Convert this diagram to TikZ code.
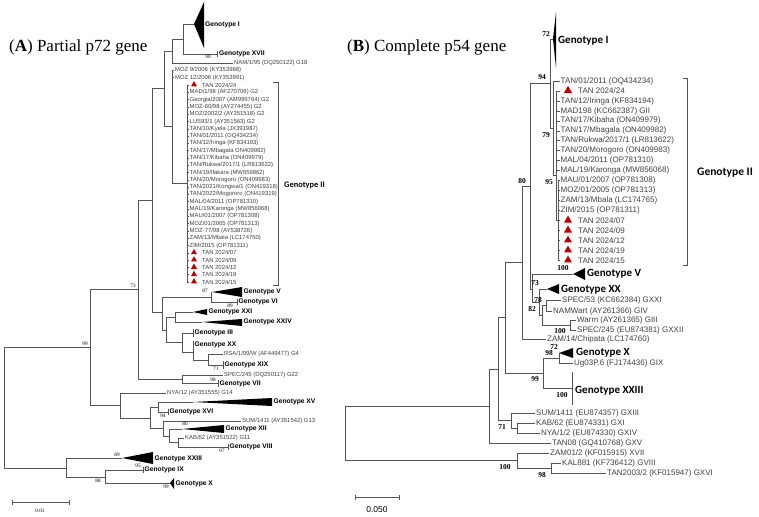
\documentclass[tikz,border=0pt]{standalone}
\usepackage{fontspec}
\setmainfont{Liberation Serif}
\setsansfont{Liberation Sans}
\newfontfamily\calibfont{Carlito}
\usetikzlibrary{shapes.geometric}
\definecolor{branchgray}{HTML}{555555}
\definecolor{leafgray}{HTML}{404040}
\definecolor{markred}{HTML}{C00000}
% collapsed clade: apex, right x, top y, bottom y
\newcommand{\cladetri}[4]{\fill[black] (#1) -- (#2,#3) -- (#2,#4) -- cycle;}

\begin{document}
\begin{tikzpicture}[x=1pt, y=-1pt,
    brL/.style={draw=branchgray, line width=0.55pt},
    brR/.style={draw=branchgray, line width=0.8pt},
    leafL/.style={anchor=west, inner sep=1pt, text=leafgray, font=\sffamily\fontsize{5.9}{6}\selectfont},
    leafR/.style={anchor=west, inner sep=1pt, text=leafgray, font=\sffamily\fontsize{8}{8}\selectfont},
    genoL/.style={anchor=west, inner sep=0pt, font=\sffamily\bfseries\fontsize{6.7}{7}\selectfont},
    genoR/.style={anchor=west, inner sep=0pt, font=\calibfont\bfseries\fontsize{11}{11}\selectfont},
    bootL/.style={inner sep=0pt, font=\fontsize{5.2}{5.5}\selectfont},
    bootR/.style={inner sep=0pt, font=\bfseries\fontsize{7.5}{8}\selectfont},
    redtri/.style={regular polygon, regular polygon sides=3, fill=markred, inner sep=0pt}
]
\useasboundingbox (0,0) rectangle (759,516);

% titles
\node[anchor=west, inner sep=0pt, font=\fontsize{17}{17}\selectfont] (titleA) at (9,47) {(\textbf{A}) Partial p72 gene};
\node[anchor=west, inner sep=0pt, font=\fontsize{17}{17}\selectfont] (titleB) at (347,47) {(\textbf{B}) Complete p54 gene};

% ---------------- (A) p72 tree ----------------
\coordinate (Lroot) at (4,407.5);
\coordinate (L99) at (90,347);
\coordinate (Lout) at (66,468);
\coordinate (L73) at (138,289);
\coordinate (Llow) at (120,405.5);
\coordinate (Lmid) at (152,200);
\coordinate (Lvii) at (182,379);
\coordinate (Lup) at (164,88.5);
\coordinate (Lq) at (162,312.5);
\coordinate (Ltop) at (172,51);
\coordinate (Lmoz) at (172,126.7);
\coordinate (Lixvii) at (183,39);
\coordinate (Lgii) at (187,183);
\coordinate (Lr) at (211,297);
\coordinate (Lq2) at (166,330);
\coordinate (Lt) at (175,317);
\coordinate (Lu) at (182,342.5);
\coordinate (Lw) at (193,352);
\coordinate (Lx) at (208,360);
\coordinate (La) at (150,418);
\coordinate (Lb) at (158,407);
\coordinate (Lc) at (163,428.5);
\coordinate (Ld) at (169,436);
\coordinate (Le) at (178,442.5);
\coordinate (Lf) at (105,477);
% tips of collapsed clades
\coordinate (tI) at (194,24);
\coordinate (tXVII) at (217,54);
\coordinate (tV) at (212,292);
\coordinate (tVI) at (237,302);
\coordinate (tXXI) at (193,312);
\coordinate (tXXIV) at (202,322);
\coordinate (tIII) at (193,333);
\coordinate (tXX) at (193,345);
\coordinate (tXIX) at (223,365);
\coordinate (tVII) at (218,383);
\coordinate (tXV) at (193,402);
\coordinate (tXVI) at (168,412);
\coordinate (tXII) at (182,429);
\coordinate (tVIII) at (228,447);
\coordinate (tXXIII) at (122,458);
\coordinate (tIX) at (143,470);
\coordinate (tX) at (170,483);

\node[leafL] (lNAM) at (233,63) {NAM/1/95 (DQ250122) G18};
\node[leafL] (lMOZa) at (174,70.4) {MOZ 9/2006 (KY353988)};
\node[leafL] (lMOZb) at (174,77.7) {MOZ 12/2006 (KY353991)};
\node[leafL] (lRSA) at (223,354) {RSA/1/99/W (AF449477) G4};
\node[leafL] (lSPEC) at (223,375) {SPEC/245 (DQ250117) G22};
\node[leafL] (lNYA) at (166,393) {NYA/12 (AY351555) G14};
\node[leafL] (lSUM) at (241,421) {SUM/1411 (AY351542) G13};
\node[leafL] (lKAB) at (184,438) {KAB/62 (AY351522) G11};

\foreach \p/\c in {Lroot/L99, Lroot/Lout, L99/L73, L99/Llow, L73/Lmid, L73/Lvii,
    Lmid/Lup, Lmid/Lq, Lup/Ltop, Lup/Lmoz, Ltop/Lixvii, Ltop/lNAM.west, Lixvii/tI, Lixvii/tXVII,
    Lmoz/lMOZa.west, Lmoz/lMOZb.west, Lmoz/Lgii, Lq/Lr, Lq/Lq2, Lr/tV, Lr/tVI, Lq2/Lt, Lq2/Lu,
    Lt/tXXI, Lt/tXXIV, Lu/tIII, Lu/Lw, Lw/tXX, Lw/Lx, Lx/lRSA.west, Lx/tXIX, Lvii/lSPEC.west,
    Lvii/tVII, Llow/lNYA.west, Llow/La, La/Lb, La/Lc, Lb/tXV, Lb/tXVI, Lc/lSUM.west, Lc/Ld,
    Ld/tXII, Ld/Le, Le/lKAB.west, Le/tVIII, Lout/tXXIII, Lout/Lf, Lf/tIX, Lf/tX}
    \draw[brL] (\p) |- (\c);

% Genotype II comb
\foreach \i in {0,...,27} {
    \coordinate (lg\i) at (188.5,{85+7.296*\i});
    \draw[brL] (Lgii) |- (lg\i);
}
\foreach \lab [count=\i] in {{MAD/1/98 (AF270706) G2}, {Georgia/2007 (AM999764) G2},
    {MOZ-60/98 (AY274455) G2}, {MOZ/2002/2 (AY351518) G2}, {LUS93/1 (AY351563) G2},
    {TAN/10/Kyela (JX391987)}, {TAN/01/2011 (OQ434234)}, {TAN/12/Iringa (KF834193)},
    {TAN/17/Mbagala ON409982)}, {TAN/17/Kibaha (ON409979)}, {TAN/Rukwa/2017/1 (LR813622)},
    {TAN/19/Ifakara (MW659862)}, {TAN/20/Morogoro (ON409983)}, {TAN/2021/Kongwa/1 (ON419318)},
    {TAN/2022/Mogororo (ON419319)}, {MAL/04/2011 (OP781310)}, {MAL/19/Karonga (MW856068)},
    {MAU/01/2007 (OP781308)}, {MOZ/01/2005 (OP781313)}, {MOZ-77/98 (AY538726)},
    {ZAM/13/Mbala (LC174750)}, {ZIM/2015 (OP781311)}}
    \node[leafL] (lgt\i) at (lg\i) {\lab};
\foreach \i/\lab in {0/24, 23/07, 24/09, 25/12, 26/19, 27/15} {
    \node[redtri, minimum size=7pt] (lm\i) at ([xshift=5.5pt, yshift=0.4pt]lg\i) {};
    \node[leafL] (lmt\i) at ([xshift=12.5pt]lg\i) {TAN 2024/\lab};
}
\draw[brL] (273,82) -- (278,82) -- (278,285) -- (273,285);
\node[anchor=west, inner sep=0pt, font=\calibfont\bfseries\fontsize{8.4}{9}\selectfont] (lGII) at (284,185) {Genotype II};

% collapsed clades
\cladetri{tI}{204}{2}{48}
\cladetri{tV}{242}{287}{297}
\cladetri{tXXI}{207}{309}{315}
\cladetri{tXXIV}{242}{319}{326}
\cladetri{tXV}{272}{398}{406}
\cladetri{tXII}{224}{425}{433}
\cladetri{tXXIII}{153}{452}{464}
\cladetri{tX}{174}{478}{489}
\foreach \x/\a/\b in {217/51/57, 237/299/305, 193/329/337, 193/341/349, 223/361/369,
    218/380/387, 168/409/415, 228/444/450, 143/467/473}
    \draw[brL] (\x,\a) -- (\x,\b);

\foreach \x/\y/\g [count=\k] in {205/25/I, 219/54/XVII, 243.5/292/V, 238.5/302/VI,
    208.5/312/XXI, 243.5/322/XXIV, 194.5/333/III, 194.5/345/XX, 224.5/365/XIX,
    219.5/384/VII, 273.5/402/XV, 169.5/412/XVI, 225.5/429/XII, 229.5/447/VIII,
    154.5/459/XXIII, 144.5/470/IX, 175.5/484/X}
    \node[genoL] (gl\k) at (\x,\y) {Genotype \g};

\foreach \x/\y/\v [count=\k] in {208/57/90, 205/291/87, 230/306/89, 216/369/71, 213/380/98,
    163/416/94, 185/424/80, 222/451/97, 117/455/89, 138/466/95, 98/481/88, 166/487/99,
    133/286/73, 85/344/99}
    \node[bootL] (bl\k) at (\x,\y) {\v};

% scale bar
\coordinate (sbLa) at (12,502);
\coordinate (sbLb) at (69,502);
\draw[brL] (sbLa) -- (sbLb);
\draw[brL] ([yshift=2.5pt]sbLa) -- ([yshift=-2.5pt]sbLa);
\draw[brL] ([yshift=2.5pt]sbLb) -- ([yshift=-2.5pt]sbLb);
\node[bootL] (sbLt) at (40,511) {0.01};

% ---------------- (B) p54 tree ----------------
\coordinate (Rroot) at (345,433);
\coordinate (Rbig) at (489,406);
\coordinate (Rbot) at (517,460.5);
\coordinate (Rkt) at (551,468);
\coordinate (Rn) at (498,369);
\coordinate (Rm) at (505,317);
\coordinate (Rs) at (511,420.5);
\coordinate (Rskn) at (517,428);
\coordinate (Rk) at (522,262);
\coordinate (R99) at (543,373);
\coordinate (Rx) at (559,358);
\coordinate (R80) at (530,186);
\coordinate (R94) at (550,83);
\coordinate (Rv) at (532,289);
\coordinate (Rg) at (553,128);
\coordinate (Rgb) at (556,175.5);
\coordinate (Rgc) at (558,220.8);
\coordinate (Rxx) at (539,302);
\coordinate (Rs3) at (542,315);
\coordinate (Rsn) at (546,305.5);
\coordinate (Rw) at (570,325);
\coordinate (rI) at (553,39);
\coordinate (rV) at (573,274);
\coordinate (rXX) at (547,289);
\coordinate (rX) at (559,353);
\coordinate (rXXIII) at (572,388);

\node[leafR] (rZAMb) at (546,339) {ZAM/14/Chipata (LC174760)};
\node[leafR] (rUg) at (573,363) {Ug03P.6 (FJ174436) GIX};
\node[leafR] (rSPECa) at (561,300) {SPEC/53 (KC662384) GXXI};
\node[leafR] (rNAMW) at (552,311) {NAMWart (AY261366) GIV};
\node[leafR] (rWarm) at (576,320) {Warm (AY261365) GIII};
\node[leafR] (rSPECb) at (576,330) {SPEC/245 (EU874381) GXXII};
\node[leafR] (rSUM) at (535,413) {SUM/1411 (EU874357) GXIII};
\node[leafR] (rKAB) at (535,423) {KAB/62 (EU874331) GXI};
\node[leafR] (rNYA) at (540,433) {NYA/1/2 (EU874330) GXIV};
\node[leafR] (rTAN08) at (551,443) {TAN08 (GQ410768) GXV};
\node[leafR] (rZAMa) at (549,453) {ZAM01/2 (KF015915) XVII};
\node[leafR] (rKAL) at (561,463) {KAL881 (KF736412) GVIII};
\node[leafR] (rTANb) at (606,473) {TAN2003/2 (KF015947) GXVI};

\foreach \p/\c in {Rroot/Rbig, Rroot/Rbot, Rbot/rZAMa.west, Rbot/Rkt, Rkt/rKAL.west,
    Rkt/rTANb.west, Rbig/Rn, Rbig/rTAN08.west, Rn/Rm, Rn/Rs, Rs/rSUM.west, Rs/Rskn,
    Rskn/rKAB.west, Rskn/rNYA.west, Rm/Rk, Rm/R99, R99/Rx, R99/rXXIII, Rx/rX, Rx/rUg.west,
    Rk/R80, Rk/rZAMb.west, R80/R94, R80/Rv, R94/rI, R94/Rg, Rv/rV, Rv/Rxx, Rxx/rXX,
    Rxx/Rs3, Rs3/Rsn, Rs3/Rw, Rsn/rSPECa.west, Rsn/rNAMW.west, Rw/rWarm.west,
    Rw/rSPECb.west, Rg/Rgb, Rgb/Rgc}
    \draw[brR] (\p) |- (\c);

% Genotype II comb
\foreach \i in {0,...,18}
    \coordinate (rg\i) at (559.5,{81+9.98*\i});
\draw[brR] (Rg) |- (rg0);
\foreach \i in {1,...,9} \draw[brR] (Rgb) |- (rg\i);
\foreach \i in {10,...,18} \draw[brR] (Rgc) |- (rg\i);
\foreach \i/\lab in {0/{TAN/01/2011 (OQ434234)}, 2/{TAN/12/Iringa (KF834194)},
    3/{MAD198 (KC662387) GII}, 4/{TAN/17/Kibaha (ON409979)}, 5/{TAN/17/Mbagala (ON409982)},
    6/{TAN/Rukwa/2017/1 (LR813622)}, 7/{TAN/20/Morogoro (ON409983)}, 8/{MAL/04/2011 (OP781310)},
    9/{MAL/19/Karonga (MW856068)}, 10/{MAU/01/2007 (OP781308)}, 11/{MOZ/01/2005 (OP781313)},
    12/{ZAM/13/Mbala (LC174765)}, 13/{ZIM/2015 (OP781311)}}
    \node[leafR] (rgt\i) at (rg\i) {\lab};
\foreach \i/\lab in {1/24, 14/07, 15/09, 16/12, 17/19, 18/15} {
    \node[redtri, minimum size=9.2pt] (rm\i) at ([xshift=8.5pt, yshift=0.5pt]rg\i) {};
    \node[leafR] (rmt\i) at ([xshift=17.5pt]rg\i) {TAN 2024/\lab};
}
\draw[brR] (683,78) -- (687,78) -- (687,265) -- (683,265);
\node[genoR, font=\calibfont\bfseries\fontsize{11.5}{12}\selectfont] (rGII) at (697,173) {Genotype II};

% collapsed clades
\cladetri{rI}{556}{12}{68}
\cladetri{rV}{585}{268}{280}
\cladetri{rXX}{559}{284}{294}
\cladetri{rX}{573}{348}{358}
\draw[brR] (572,372) -- (572,405);

\foreach \x/\y/\g [count=\k] in {558/41/I, 587/274/V, 561/290/XX, 576/353/X, 575/391/XXIII}
    \node[genoR] (gr\k) at (\x,\y) {Genotype \g};

\foreach \x/\y/\v [count=\k] in {546/34/72, 542/77/94, 546/135/79, 522/181/80, 549/182/95,
    563/268/100, 535/283/73, 538/300/78, 532/309/82, 560/331/100, 554/347/72, 549/353/98,
    535/379/99, 562/395/100, 502/427/71, 505/467/100, 542/475/98}
    \node[bootR] (br\k) at (\x,\y) {\v};

% scale bar
\coordinate (sbRa) at (355,497);
\coordinate (sbRb) at (399,497);
\draw[brR] (sbRa) -- (sbRb);
\draw[brR] ([yshift=2.5pt]sbRa) -- ([yshift=-2.5pt]sbRa);
\draw[brR] ([yshift=2.5pt]sbRb) -- ([yshift=-2.5pt]sbRb);
\node[inner sep=0pt, font=\sffamily\fontsize{8.5}{9}\selectfont] (sbRt) at (377,510) {0.050};
\end{tikzpicture}
\end{document}
